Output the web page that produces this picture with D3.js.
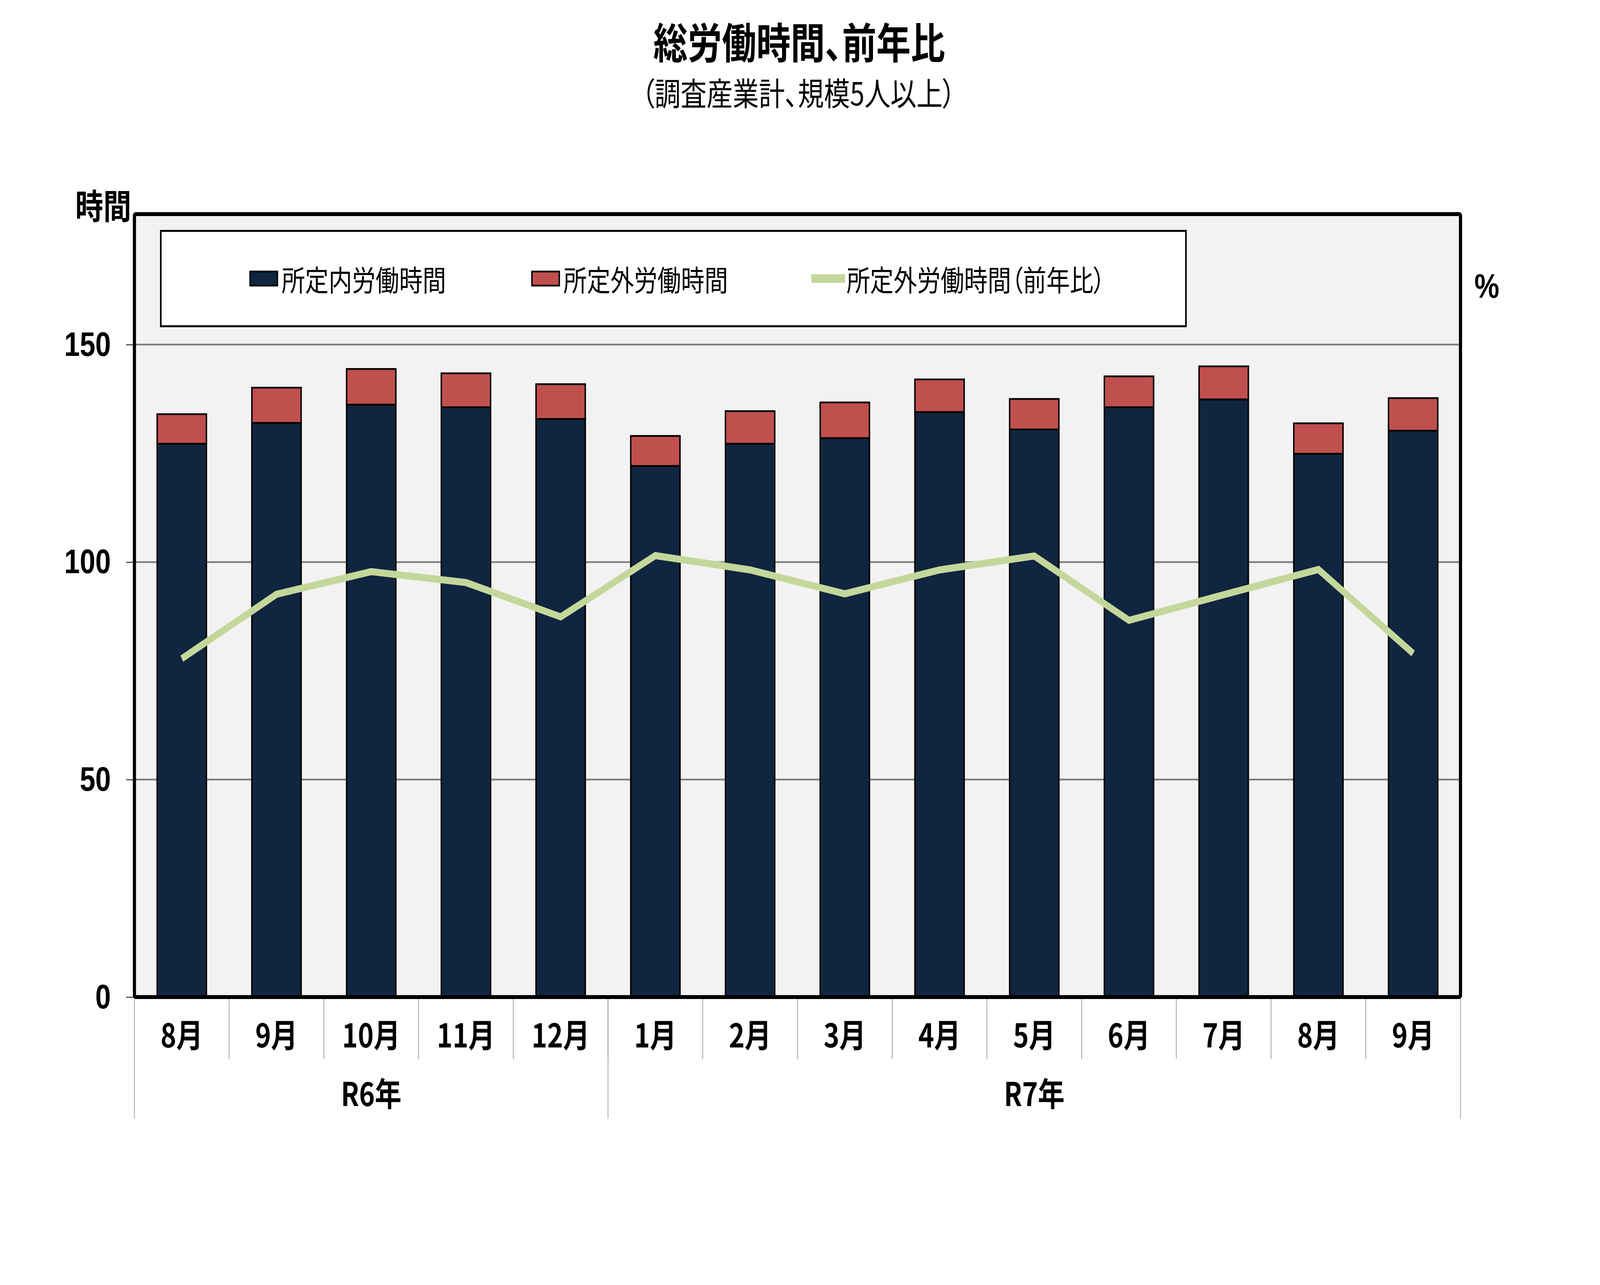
<!DOCTYPE html>
<html>
<head>
<meta charset="utf-8">
<script src="https://cdn.jsdelivr.net/npm/d3@7"></script>
<style>
  html, body { margin: 0; padding: 0; width: 100%; height: 100%; overflow: hidden; background: #ffffff; }
  #chart { display: block; width: 100vw; height: 100vh; }
  text { font-family: "Noto Sans CJK JP", "Noto Sans", sans-serif; font-feature-settings: "palt"; }
  .num { font-family: "Liberation Sans", Arial, sans-serif; font-weight: bold; }
</style>
</head>
<body>
<svg id="chart"></svg>
<script>
// categories
const months = ['8月', '9月', '10月', '11月', '12月', '1月', '2月', '3月', '4月', '5月', '6月', '7月', '8月', '9月'];
const yearLabels = ['R6年', 'R7年'];
const yearSpans = [5, 9];

// series (hours)
const scheduledHours = [127.2, 132.0, 136.2, 135.6, 132.9, 122.1, 127.2, 128.5, 134.5, 130.5, 135.6, 137.4, 124.9, 130.2];
const overtimeHours = [6.8, 8.1, 8.2, 7.8, 8.0, 6.9, 7.5, 8.2, 7.5, 7.0, 7.1, 7.6, 7.0, 7.5];
// overtime year-on-year, read against the (unlabelled) right axis
const overtimeYoY = [77.8, 92.6, 97.8, 95.3, 87.4, 101.5, 98.2, 92.7, 98.2, 101.4, 86.6, 92.5, 98.3, 79.0];

// ticks
const yTicks = [0, 50, 100, 150];
const yMax = 180;

const seriesNames = ['所定内労働時間', '所定外労働時間', '所定外労働時間（前年比）'];
const colors = ['#10253f', '#c0504d', '#c4d79b'];

// drawing is laid out on the reference's 5035x3289 grid and stretched to the window
const W = 5035, H = 3289;
const margin = { left: 423, top: 548, right: W - 4596, bottom: H - 2552 };
const width = W - margin.left - margin.right;
const height = H - margin.top - margin.bottom;

const svg = d3.select('#chart')
  .attr('viewBox', `0 0 ${W} ${H}`)
  .attr('preserveAspectRatio', 'none');

// Title
svg.append('text')
  .attr('x', 2515).attr('y', 150)
  .attr('text-anchor', 'middle')
  .attr('font-size', 108).attr('font-weight', 'bold')
  .text('総労働時間、前年比');
svg.append('text')
  .attr('x', 2513).attr('y', 270)
  .attr('text-anchor', 'middle')
  .attr('font-size', 82)
  .text('（調査産業計、規模5人以上）');

// Axis titles
svg.append('text')
  .attr('x', 325).attr('y', 560)
  .attr('text-anchor', 'middle')
  .attr('font-size', 88).attr('font-weight', 'bold')
  .text('時間');
svg.append('text')
  .attr('class', 'num')
  .attr('x', 4679).attr('y', 762)
  .attr('text-anchor', 'middle')
  .attr('font-size', 88)
  .text('%');

// Scales
const keys = months.map((m, i) => i);
const xSlot = d3.scaleBand().domain(keys).range([0, width]).padding(0);
const barW = xSlot.bandwidth() * 0.52;
const y = d3.scaleLinear().domain([0, yMax]).range([height, 0]);
const yRight = d3.scaleLinear().domain([0, yMax]).range([height, 0]);

const g = svg.append('g').attr('transform', `translate(${margin.left},${margin.top})`);

// Plot background
g.append('rect')
  .attr('width', width).attr('height', height)
  .attr('fill', '#f2f2f2');

// Gridlines
g.selectAll('.grid')
  .data(yTicks.filter((t) => t > 0))
  .join('line')
  .attr('x1', 0).attr('x2', width)
  .attr('y1', (d) => y(d)).attr('y2', (d) => y(d))
  .attr('stroke', '#808080')
  .attr('stroke-width', 4.5);

// Left axis
const yAxis = g.append('g')
  .call(d3.axisLeft(y).tickValues(yTicks).tickSize(26).tickPadding(48));
yAxis.select('.domain').remove();
yAxis.selectAll('.tick line').attr('stroke', '#000').attr('stroke-width', 2);
yAxis.selectAll('.tick text')
  .attr('class', 'num')
  .attr('font-size', 88)
  .attr('fill', '#000');

// Stacked bars
const table = keys.map((i) => ({ key: i, scheduled: scheduledHours[i], overtime: overtimeHours[i] }));
const stacked = d3.stack().keys(['scheduled', 'overtime'])(table);

g.selectAll('.layer')
  .data(stacked)
  .join('g')
  .attr('fill', (d, i) => colors[i])
  .selectAll('rect')
  .data((d) => d)
  .join('rect')
  .attr('x', (d) => xSlot(d.data.key) + (xSlot.bandwidth() - barW) / 2)
  .attr('width', barW)
  .attr('y', (d) => y(d[1]))
  .attr('height', (d) => y(d[0]) - y(d[1]))
  .attr('stroke', '#000')
  .attr('stroke-width', 4.5);

// Year-on-year line
g.append('path')
  .datum(keys)
  .attr('fill', 'none')
  .attr('stroke', colors[2])
  .attr('stroke-width', 18)
  .attr('stroke-linejoin', 'miter')
  .attr('d', d3.line()
    .x((i) => xSlot(i) + xSlot.bandwidth() / 2)
    .y((i) => yRight(overtimeYoY[i])));

// Frame
g.append('rect')
  .attr('width', width).attr('height', height)
  .attr('fill', 'none')
  .attr('stroke', '#000')
  .attr('stroke-width', 10)
  .attr('rx', 4);

// Category axis: months
const monthLineBottom = 154;
const yearLineBottom = 306;
const cat = g.append('g').attr('transform', `translate(0,${height + 5})`);

cat.selectAll('.mline')
  .data(d3.range(1, months.length))
  .join('line')
  .attr('x1', (i) => xSlot(i)).attr('x2', (i) => xSlot(i))
  .attr('y1', 0).attr('y2', monthLineBottom)
  .attr('stroke', '#a6a6a6')
  .attr('stroke-width', 2.5);

cat.selectAll('.mlabel')
  .data(keys)
  .join('text')
  .attr('x', (i) => xSlot(i) + xSlot.bandwidth() / 2)
  .attr('y', 87)
  .attr('text-anchor', 'middle')
  .attr('dominant-baseline', 'central')
  .attr('font-size', 84).attr('font-weight', 'bold')
  .text((i) => months[i]);

// Category axis: years
const yearStarts = yearSpans.map((s, i) => d3.sum(yearSpans.slice(0, i)));
const yearBounds = [0, ...yearSpans.map((s, i) => yearStarts[i] + s)];

cat.selectAll('.yline')
  .data(yearBounds)
  .join('line')
  .attr('x1', (b) => (b < months.length ? xSlot(b) : width))
  .attr('x2', (b) => (b < months.length ? xSlot(b) : width))
  .attr('y1', 0).attr('y2', yearLineBottom)
  .attr('stroke', '#a6a6a6')
  .attr('stroke-width', 2.5);

cat.selectAll('.ylabel')
  .data(yearLabels)
  .join('text')
  .attr('x', (d, i) => {
    const a = xSlot(yearStarts[i]);
    const end = yearStarts[i] + yearSpans[i];
    const b = end < months.length ? xSlot(end) : width;
    return (a + b) / 2;
  })
  .attr('y', 237)
  .attr('text-anchor', 'middle')
  .attr('dominant-baseline', 'central')
  .attr('font-size', 84).attr('font-weight', 'bold')
  .text((d) => d);

// Legend
const legend = svg.append('g');
legend.append('rect')
  .attr('x', 506).attr('y', 591)
  .attr('width', 3226).attr('height', 244)
  .attr('fill', '#fff')
  .attr('stroke', '#000')
  .attr('stroke-width', 5);

const legendX = [787, 1674, 2553];
const items = legend.selectAll('.item')
  .data(seriesNames)
  .join('g')
  .attr('transform', (d, i) => `translate(${legendX[i]},713)`);

items.append('rect')
  .attr('x', 0)
  .attr('y', (d, i) => (i < 2 ? -18 : -11))
  .attr('width', (d, i) => (i < 2 ? 86 : 106))
  .attr('height', (d, i) => (i < 2 ? 36 : 22))
  .attr('fill', (d, i) => colors[i])
  .attr('stroke', (d, i) => (i < 2 ? '#000' : 'none'))
  .attr('stroke-width', 4.5);

items.append('text')
  .attr('x', (d, i) => (i < 2 ? 99 : 111))
  .attr('y', 0)
  .attr('dominant-baseline', 'central')
  .attr('font-size', 74)
  .text((d) => d);
</script>
</body>
</html>
